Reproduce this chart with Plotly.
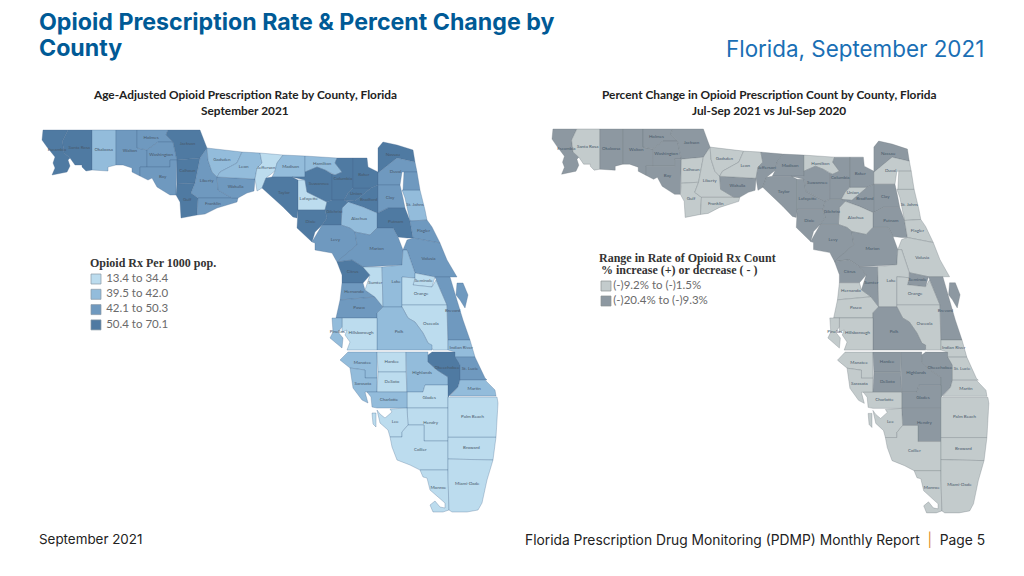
import plotly.graph_objects as go

county_names = ["Escambia","Santa Rosa","Okaloosa","Walton","Holmes","Washington","Bay","Jackson","Calhoun","Gulf","Liberty","Franklin","Wakulla","Gadsden","Leon","Jefferson","Madison","Taylor","Lafayette","Hamilton","Suwannee","Columbia","Union","Baker","Bradford","Nassau","Duval","Clay","St. Johns","Putnam","Alachua","Gilchrist","Dixie","Levy","Marion","Flagler","Volusia","Citrus","Hernando","Pasco","Sumter","Lake","Seminole","Orange","Osceola","Brevard","Polk","Hillsborough","Pinellas","Manatee","Sarasota","Hardee","DeSoto","Highlands","Okeechobee","Indian River","St. Lucie","Martin","Glades","Charlotte","Hendry","Lee","Collier","Monroe","Broward","Palm Beach","Miami-Dade"]

county_outlines = [
[(43,130),(68,130),(62.5,141),(64,153),(70,158),(68,160),(70,166),(67,172),(52,175),(55,168),(53,163),(55,157),(47,147),(42,140)],
[(68,130),(92,130),(92,170),(86,171),(82,167),(82,165),(75,165),(70,158),(64,153),(62.5,141)],
[(92,130),(116,130),(116,165),(108,167),(108,171),(92,170)],
[(116,130),(137,130),(137,148),(147,150),(147,167),(140,167),(140,176),(132,172),(132,168),(123,165),(116,165)],
[(137,130),(168,130),(166,135),(173,142),(158,142),(147,150),(137,148)],
[(147,150),(158,142),(173,142),(177,160),(170,160),(170,167),(147,167)],
[(147,167),(170,167),(170,160),(177,160),(176,195),(170,195),(157,187),(152,178),(148,180),(140,176),(140,167)],
[(168,130),(200,130),(205,143),(207,148),(200,158),(177,160),(173,142),(166,135)],
[(177,160),(200,158),(195,183),(177,184)],
[(177,184),(195,183),(191,193),(198,198),(197,215),(181,218),(180,202),(176,195)],
[(200,158),(207,148),(208,160),(212,172),(217,177),(218,190),(232,198),(198,198),(191,193),(195,183)],
[(198,198),(232,198),(238,198),(237,202),(217,208),(205,214),(197,215)],
[(217,177),(255,179),(254,191),(247,193),(238,198),(232,198),(218,190)],
[(207,148),(242,152),(237,163),(220,172),(217,177),(212,172),(208,160)],
[(242,152),(260,153),(262,163),(257,168),(255,179),(217,177),(220,172),(237,163)],
[(260,153),(283,155),(277,163),(275,171),(266,178),(262,188),(257,191),(255,179),(257,168),(262,163)],
[(283,155),(305,156),(305,172),(305,177),(292,177),(272,177),(275,171),(277,163)],
[(272,177),(292,177),(298,180),(298,210),(297,218),(293,217),(283,207),(272,197),(262,188),(266,178)],
[(298,180),(305,180),(307,192),(327,202),(325,210),(298,210)],
[(305,156),(337,158),(335,163),(342,172),(335,175),(325,170),(317,167),(305,172)],
[(305,172),(317,167),(325,170),(332,174),(332,200),(327,202),(307,192),(305,180),(292,177),(305,177)],
[(337,158),(353,158),(353,188),(348,193),(344,200),(332,200),(332,174),(335,175),(342,172),(335,163)],
[(353,188),(371,188),(360,197),(355,201),(344,200),(348,193)],
[(353,158),(367,158),(368,167),(378,172),(378,185),(371,188),(353,188)],
[(355,201),(360,197),(371,188),(378,185),(378,213),(377,213),(363,207),(348,202),(344,200)],
[(378,148),(383,142),(397,145),(413,150),(415,162),(397,158),(378,173)],
[(378,173),(397,158),(415,162),(417,172),(404,172),(402,172),(400,185),(378,185)],
[(378,185),(400,185),(403,198),(405,208),(388,208),(378,213)],
[(402,190),(420,190),(425,210),(427,220),(410,221),(407,207),(405,198)],
[(378,213),(388,208),(405,208),(410,221),(413,238),(407,238),(398,237),(393,228),(377,228),(377,213)],
[(342,208),(348,202),(363,207),(377,213),(377,228),(370,235),(355,232),(350,228),(341,225)],
[(327,202),(332,200),(344,200),(348,202),(342,208),(341,225),(322,225),(327,218),(325,210)],
[(298,210),(325,210),(327,218),(322,225),(315,232),(312,242),(297,228)],
[(322,225),(341,225),(350,228),(355,232),(357,245),(345,255),(337,262),(332,253),(315,250),(315,243),(312,242)],
[(355,232),(370,235),(377,228),(393,228),(398,237),(403,250),(402,265),(363,267),(352,260),(337,262),(345,255),(357,245)],
[(410,221),(427,220),(432,227),(440,243),(413,238)],
[(413,238),(440,243),(447,260),(457,277),(450,277),(435,277),(415,273),(407,250),(403,250),(407,240)],
[(342,283),(363,283),(370,275),(363,267),(352,260),(337,262),(342,275)],
[(342,283),(363,283),(365,290),(375,297),(340,300)],
[(340,300),(375,297),(383,307),(377,313),(377,318),(336,318)],
[(363,267),(382,267),(383,307),(375,297),(365,290),(370,275)],
[(382,267),(402,265),(403,250),(407,250),(415,273),(415,278),(402,277),(402,307),(383,307)],
[(415,273),(435,277),(432,287),(413,285),(415,278)],
[(402,277),(415,278),(413,285),(432,287),(436,280),(447,305),(402,305)],
[(402,305),(447,305),(448,350),(433,350),(428,343),(423,333),(415,322),(408,318),(402,307)],
[(435,277),(450,277),(456,297),(463,320),(470,340),(448,340),(447,305),(436,280)],
[(377,313),(383,307),(402,307),(408,318),(415,322),(423,333),(428,343),(432,345),(432,350),(377,350)],
[(342,318),(377,318),(377,350),(347,350),(350,342),(345,335),(347,330),(342,332)],
[(332,318),(342,318),(342,327),(338,332),(343,338),(342,348),(330,338),(333,332)],
[(340,360),(348,352),(377,352),(377,378),(365,378),(365,370),(350,368)],
[(350,368),(365,370),(365,378),(377,378),(377,392),(365,392),(368,403),(362,400),(353,388)],
[(377,352),(406,352),(406,372),(378,372)],
[(378,372),(406,372),(407,392),(377,392)],
[(406,352),(428,352),(428,362),(437,370),(448,377),(448,385),(425,385),(423,392),(407,392)],
[(428,355),(432,352),(455,352),(460,365),(460,380),(458,387),(448,397),(448,385),(448,377),(437,370),(428,362)],
[(448,340),(470,340),(475,357),(455,357),(455,352),(448,350)],
[(455,357),(475,357),(485,378),(487,380),(460,380),(460,365)],
[(460,380),(485,380),(495,390),(496,396),(450,396),(458,387)],
[(407,392),(423,392),(425,385),(448,385),(448,408),(407,408)],
[(367,392),(407,392),(407,408),(377,408),(372,407),(371,397)],
[(407,408),(448,408),(448,441),(424,441),(424,425),(408,425)],
[(377,410),(380,414),(385,418),(392,412),(390,409),(407,408),(408,425),(402,432),(402,437),(390,437),(388,430),(380,423)],
[(390,437),(402,437),(402,432),(408,425),(424,425),(424,441),(448,441),(448,470),(420,470),(410,465),(397,460),(392,447)],
[(420,470),(448,470),(449,510),(443,512),(433,512),(430,505),(435,501),(440,507),(445,508),(445,503),(430,490),(427,478),(423,477)],
[(448,437),(496,437),(493,460),(448,459)],
[(448,397),(497,397),(498,403),(496,437),(448,437)],
[(448,459),(493,460),(487,480),(482,503),(478,510),(467,512),(452,512),(449,510),(448,480)],
]

# detached pieces of a county: the owner's name, then its outline
extra_owner = ["Duval","Brevard","Lee"]
extra_outlines = [
[(404,172),(417,172),(420,190),(403,190)],
[(457,283),(463,283),(468,295),(465,308),(460,300),(456,295)],
[(372,413),(376,413),(376,427),(373,424)],
]

left_class = [4,4,2,3,3,3,3,4,4,4,3,3,3,2,2,1,2,4,1,2,4,4,4,4,4,4,3,3,2,4,2,4,4,3,3,3,3,4,3,3,1,2,1,1,1,3,2,1,2,2,2,1,1,2,4,2,3,2,1,2,1,1,1,1,1,1,1]
right_class = [2,1,2,2,2,2,2,2,1,1,1,1,2,1,1,2,2,2,2,1,2,2,1,2,2,2,1,2,1,2,1,2,2,2,2,1,1,2,1,1,2,1,2,1,1,2,2,1,1,1,1,2,2,2,2,1,1,1,2,1,2,1,1,1,1,1,1]

left_palette = {1:"#bcdcee", 2:"#93bcdb", 3:"#6f99bf", 4:"#4f7aa2"}
right_palette = {1:"#c3cbcc", 2:"#8d98a1"}

left_legend_labels = ["13.4 to 34.4","39.5 to 42.0","42.1 to 50.3","50.4 to 70.1"]
right_legend_labels = ["(-)9.2% to (-)1.5%","(-)20.4% to (-)9.3%"]

def centroid(p):
    a = cx = cy = 0
    for (x0,y0),(x1,y1) in zip(p, p[1:]+p[:1]):
        c = x0*y1-x1*y0
        a += c; cx += (x0+x1)*c; cy += (y0+y1)*c
    return cx/(3*a), cy/(3*a)

fig = go.Figure()
def draw(classes, palette, xa, ya, edge):
    parts = list(zip(county_names, county_outlines, classes))
    parts += [(o, p, classes[county_names.index(o)]) for o, p in zip(extra_owner, extra_outlines)]
    for name, poly, k in parts:
        xs = [v[0] for v in poly]+[poly[0][0]]
        ys = [v[1] for v in poly]+[poly[0][1]]
        fig.add_trace(go.Scatter(x=xs, y=ys, xaxis=xa, yaxis=ya, mode="lines", fill="toself",
                                 fillcolor=palette[k], line=dict(color=edge, width=0.5),
                                 name=name, hoverinfo="name", showlegend=False))
    cs = [centroid(p) for p in county_outlines]
    fig.add_trace(go.Scatter(x=[c[0] for c in cs], y=[c[1] for c in cs], xaxis=xa, yaxis=ya,
                             mode="text", text=county_names, showlegend=False, hoverinfo="skip",
                             textfont=dict(size=4.5, color="#47586a", family="Lato")))

draw(left_class, left_palette, "x", "y", "rgba(70,105,140,0.6)")
draw(right_class, right_palette, "x2", "y2", "rgba(105,115,122,0.6)")

for i, lab in enumerate(left_legend_labels):
    fig.add_trace(go.Scatter(x=[96], y=[279+15.3*i], xaxis="x3", yaxis="y3", mode="markers+text",
        marker=dict(symbol="square", size=10, color=left_palette[i+1], line=dict(color="#8a9aa5", width=0.7)),
        text=[" "+lab], textposition="middle right", textfont=dict(size=11.5, color="#6a6a6a", family="Lato"),
        showlegend=False, hoverinfo="skip"))
for i, lab in enumerate(right_legend_labels):
    fig.add_trace(go.Scatter(x=[606], y=[286+15*i], xaxis="x3", yaxis="y3", mode="markers+text",
        marker=dict(symbol="square", size=10, color=right_palette[i+1], line=dict(color="#8a9090", width=0.7)),
        text=[lab], textposition="middle right", textfont=dict(size=11.5, color="#6a6a6a", family="Lato"),
        showlegend=False, hoverinfo="skip"))

def note(text, x, y, size, color, family, anchor="left", bold=False):
    fig.add_annotation(xref="x3", yref="y3", x=x, y=y, text=f"<b>{text}</b>" if bold else text,
                       showarrow=False, xanchor=anchor, yanchor="middle", align=anchor,
                       font=dict(size=size, color=color, family=family))

TITLE = "#005a96"
note("Opioid Prescription Rate & Percent Change by", 37, 22, 23.2, TITLE, "Inter", bold=True)
note("County", 37, 48, 23.2, TITLE, "Inter", bold=True)
note("Florida, September 2021", 986, 48, 22.4, "#1a6fb5", "Inter", "right")
note("Age-Adjusted Opioid Prescription Rate by County, Florida", 245, 94.5, 11.85, "#222222", "Lato", "center", True)
note("September 2021", 245, 110, 11.85, "#222222", "Lato", "center", True)
note("Percent Change in Opioid Prescription Count by County, Florida", 769, 94.5, 11.85, "#222222", "Lato", "center", True)
note("Jul-Sep 2021 vs Jul-Sep 2020", 769, 110, 11.85, "#222222", "Lato", "center", True)
note("Opioid Rx Per 1000 pop.", 88, 263, 12, "#333333", "Liberation Serif", bold=True)
note("Range in Rate of Opioid Rx Count", 597, 258, 12, "#333333", "Liberation Serif", bold=True)
note("% increase (+) or decrease ( - )", 599, 270, 12, "#333333", "Liberation Serif", bold=True)
note("September 2021", 37, 539, 13.4, "#222222", "Inter")
note('Florida Prescription Drug Monitoring (PDMP) Monthly Report  <span style="color:#e08a1e">|</span>  Page 5', 987, 539, 13.8, "#222222", "Inter", "right")

hidden = dict(visible=False, showgrid=False, zeroline=False, fixedrange=True)
fig.update_layout(
    width=1024, height=576, margin=dict(l=0, r=0, t=0, b=0), showlegend=False,
    paper_bgcolor="white", plot_bgcolor="rgba(0,0,0,0)",
    xaxis=dict(domain=[0,0.5], range=[0,512], **hidden),
    yaxis=dict(domain=[0,1], range=[576,0], **hidden),
    xaxis2=dict(domain=[0.5,1], range=[0.25,534.7], **hidden),
    yaxis2=dict(domain=[0,1], range=[574.8,1.64], anchor="x2", **hidden),
    xaxis3=dict(domain=[0,1], range=[0,1024], anchor="y3", **hidden),
    yaxis3=dict(domain=[0,1], range=[576,0], anchor="x3", **hidden),
)
fig.write_html("out.html", config={"displayModeBar": False},
               post_script="document.body.style.margin='0';document.body.style.overflow='hidden';")
